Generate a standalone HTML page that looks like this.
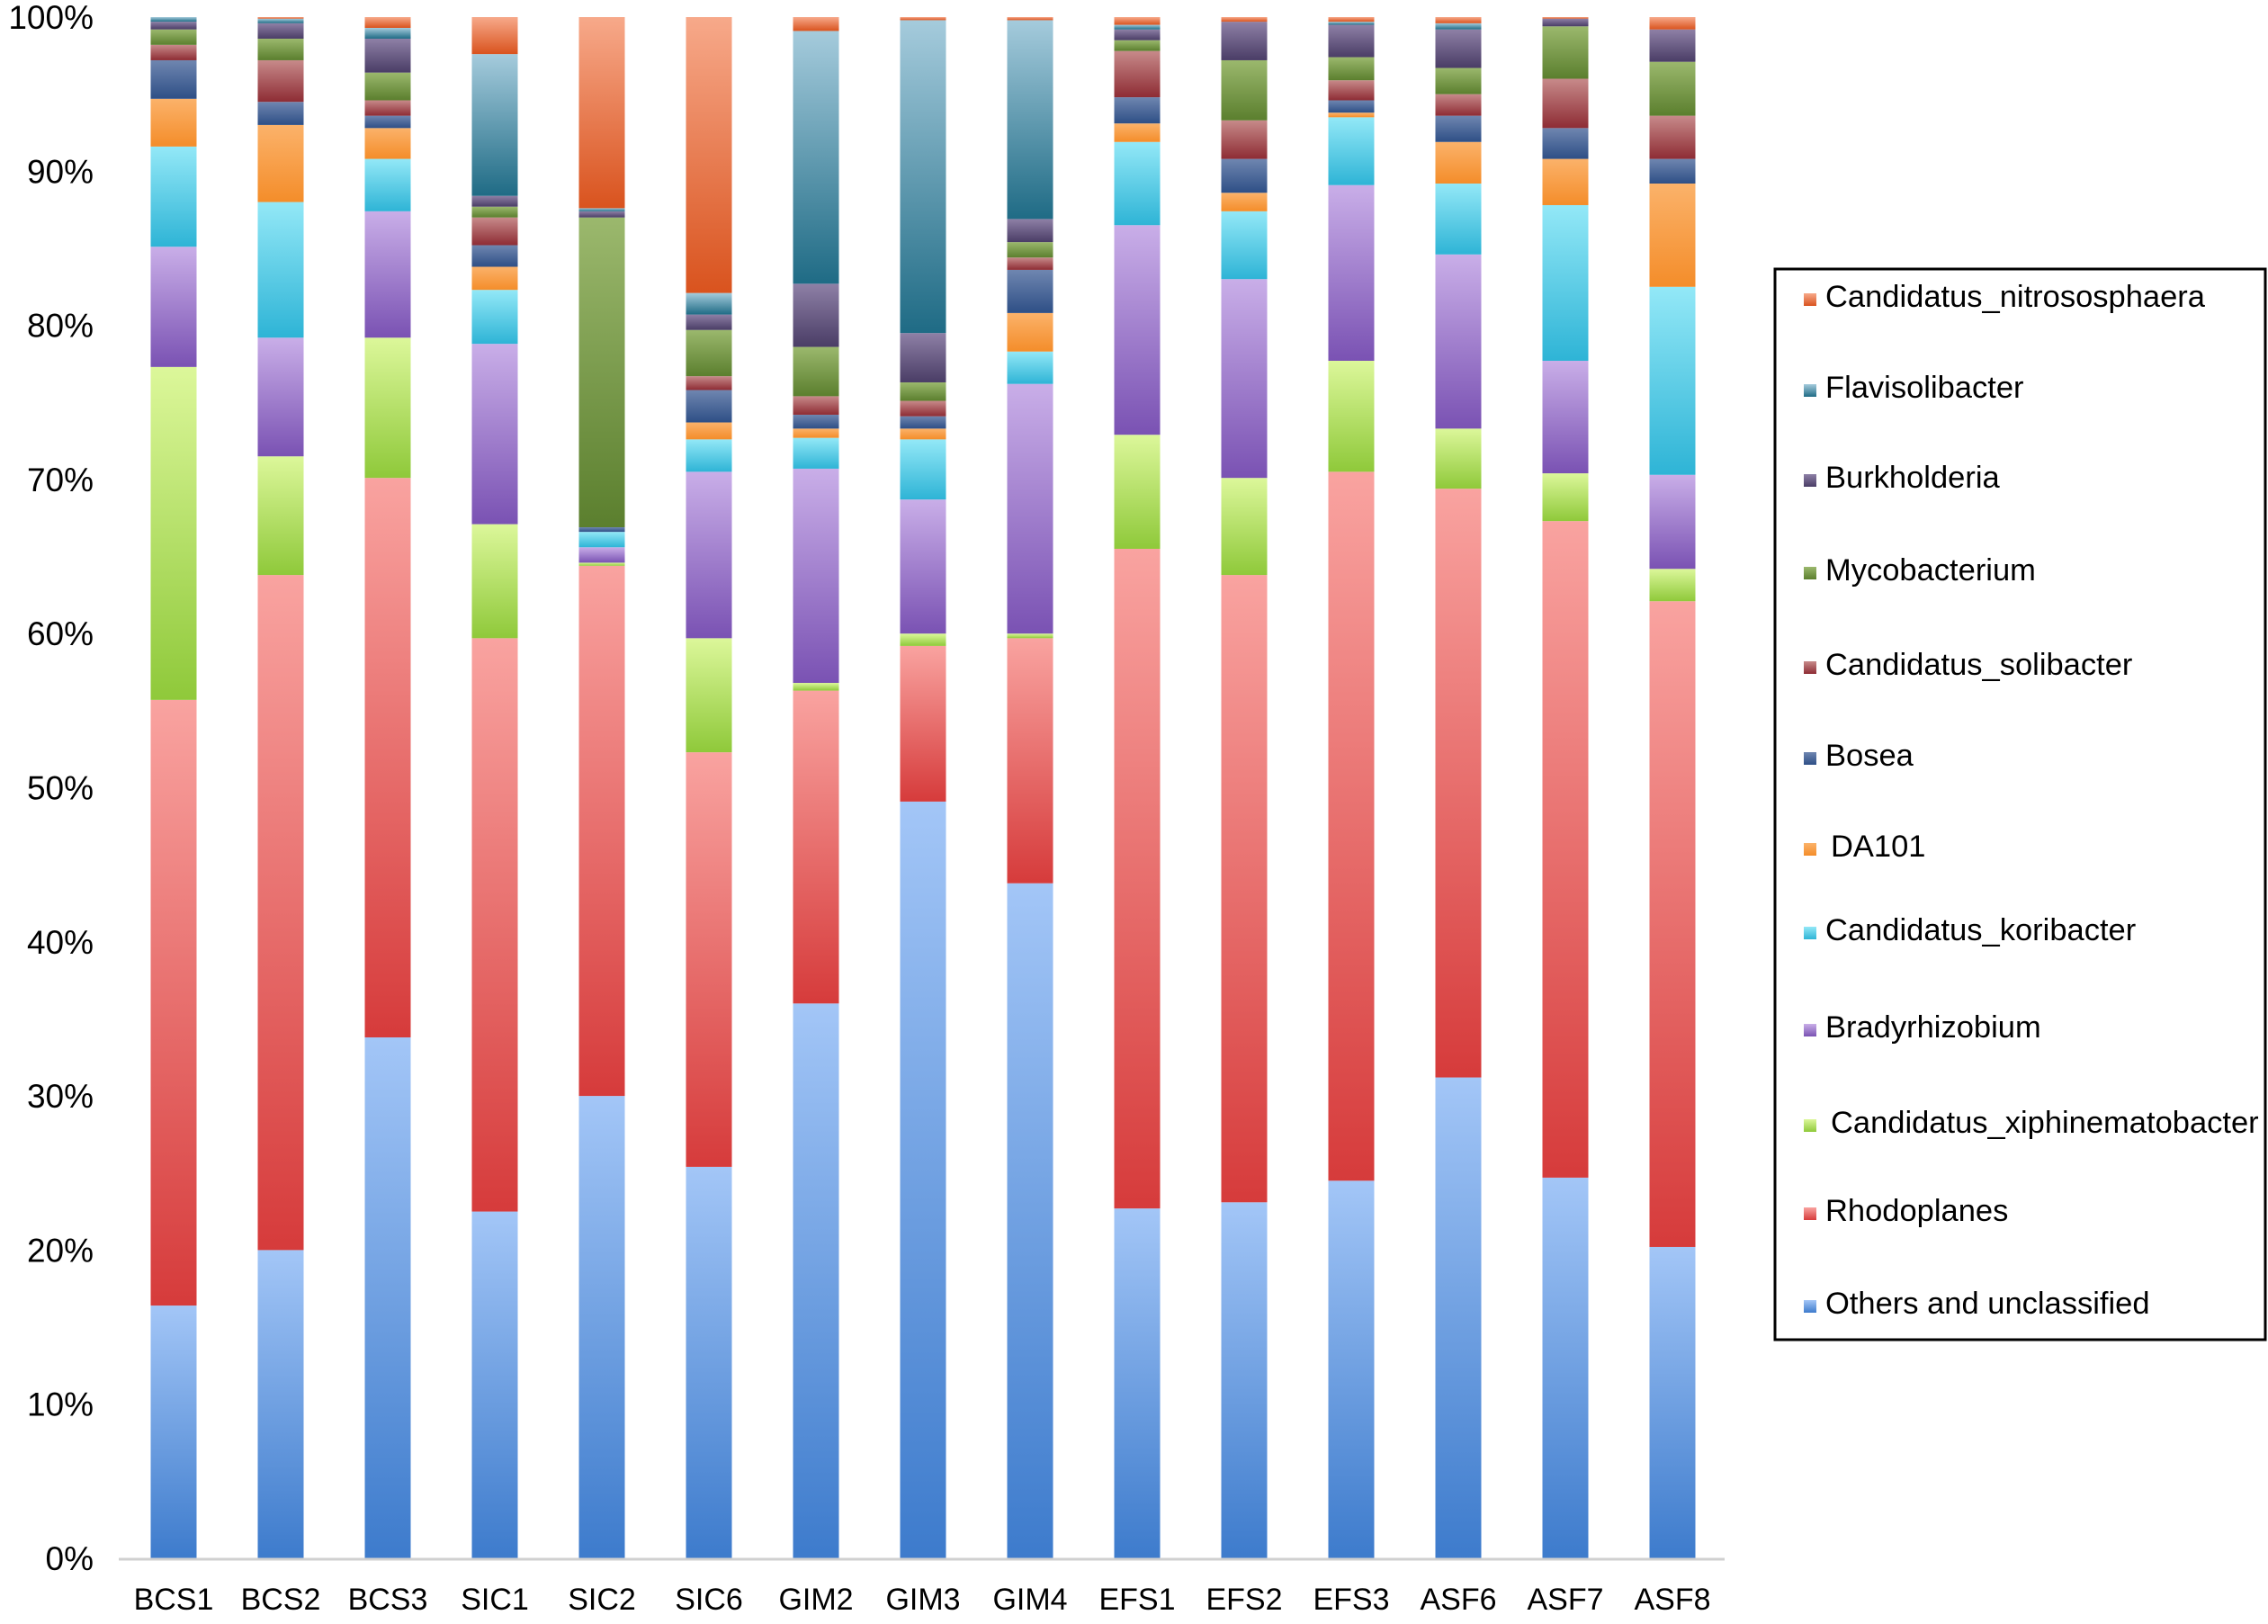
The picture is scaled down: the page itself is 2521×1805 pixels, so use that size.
<!DOCTYPE html>
<html><head><meta charset="utf-8"><style>
html,body{margin:0;padding:0;background:#fff;}
svg{display:block;font-family:"Liberation Sans",Arial,sans-serif;}
</style></head><body>
<svg id="chart" width="2521" height="1805" viewBox="0 0 2521 1805" xmlns="http://www.w3.org/2000/svg">
<defs id="defs"></defs>
<g id="yaxis"></g>
<g id="bars"></g>
<g id="xaxis"></g>
<g id="legend"></g>
</svg>
<script>
const samples = ["BCS1","BCS2","BCS3","SIC1","SIC2","SIC6","GIM2","GIM3","GIM4","EFS1","EFS2","EFS3","ASF6","ASF7","ASF8"];
const seriesNames = ["Others and unclassified","Rhodoplanes","Candidatus_xiphinematobacter","Bradyrhizobium","Candidatus_koribacter","DA101","Bosea","Candidatus_solibacter","Mycobacterium","Burkholderia","Flavisolibacter","Candidatus_nitrososphaera"];
const others = [16.4,20.0,33.8,22.5,30.0,25.4,36.0,49.1,43.8,22.7,23.1,24.5,31.2,24.7,20.2];
const rhodoplanes = [39.3,43.8,36.3,37.2,34.4,26.9,20.3,10.1,15.9,42.8,40.7,46.0,38.2,42.6,41.9];
const xiphinematobacter = [21.6,7.7,9.1,7.4,0.2,7.4,0.5,0.8,0.3,7.4,6.3,7.2,3.9,3.1,2.1];
const bradyrhizobium = [7.8,7.7,8.2,11.7,1.0,10.8,13.9,8.7,16.2,13.6,12.9,11.4,11.3,7.3,6.1];
const koribacter = [6.5,8.8,3.4,3.5,1.0,2.1,2.0,3.9,2.1,5.4,4.4,4.4,4.6,10.1,12.2];
const da101 = [3.1,5.0,2.0,1.5,0.0,1.1,0.6,0.7,2.5,1.2,1.2,0.3,2.7,3.0,6.7];
const bosea = [2.5,1.5,0.8,1.4,0.3,2.1,0.9,0.8,2.8,1.7,2.2,0.8,1.7,2.0,1.6];
const solibacter = [1.0,2.7,1.0,1.8,0.0,0.9,1.2,1.0,0.8,3.0,2.5,1.3,1.4,3.2,2.8];
const mycobacterium = [1.0,1.4,1.8,0.7,20.1,3.0,3.2,1.2,1.0,0.7,3.9,1.5,1.7,3.4,3.5];
const burkholderia = [0.5,1.0,2.2,0.7,0.4,1.0,4.1,3.2,1.5,0.7,2.5,2.1,2.5,0.5,2.1];
const flavisolibacter = [0.5,0.3,0.7,9.2,0.2,1.4,16.4,20.3,12.9,0.3,0.0,0.2,0.4,0.0,0.0];
const nitrososphaera = [0.0,0.0,0.0,2.4,12.4,17.9,0.9,0.2,0.2,0.0,0.5,0.6,0.4,0.0,0.8];
const yTicks = ["0%","10%","20%","30%","40%","50%","60%","70%","80%","90%","100%"];
const colorsTop = ["#a3c6f7","#f9a3a0","#dcf79a","#c9aee8","#93e8f7","#fbb26a","#6f86b0","#c78a8a","#9bb86d","#8e80a6","#a5cbdc","#f7a98a"];
const colorsBot = ["#3d7bcc","#d63b3b","#8fc93a","#7a52b3","#2eb4d6","#f48d2a","#2e4f86","#8e2c34","#5b7f2e","#4a3d66","#1f6b85","#d9531e"];

const NS="http://www.w3.org/2000/svg";
const defs=document.getElementById('defs');
const y0=1732, y1=19, xStart=193, xStep=119, barW=51, axL=132, axR=1917;
function yScale(v){return y0-(y0-y1)*v/100;}
function xScale(i){return xStart+i*xStep;}
function mk(t,a,p){const e=document.createElementNS(NS,t);for(const k in a)e.setAttribute(k,a[k]);p.appendChild(e);return e;}
const series=[others,rhodoplanes,xiphinematobacter,bradyrhizobium,koribacter,da101,bosea,solibacter,mycobacterium,burkholderia,flavisolibacter,nitrososphaera];
seriesNames.forEach((n,s)=>{
  const g=mk('linearGradient',{id:'g'+s,x1:0,y1:0,x2:0,y2:1},defs);
  mk('stop',{offset:0,'stop-color':colorsTop[s]},g);
  mk('stop',{offset:1,'stop-color':colorsBot[s]},g);
});
const ya=document.getElementById('yaxis');
yTicks.forEach((t,i)=>{
  const el=mk('text',{x:104,y:yScale(i*10)+13,'text-anchor':'end','font-size':37,fill:'#000'},ya);
  
  
  el.textContent=t;
});
const xa=document.getElementById('xaxis');
const ax=mk('line',{x1:axL,x2:axR,y1:y0+1,y2:y0+1,stroke:'#d0d0d0','stroke-width':3},xa);


const bars=document.getElementById('bars');
samples.forEach((smp,i)=>{
  let cum=0;
  const g=mk('g',{},bars);
  
  
  const totals=series.reduce((a,s)=>a+s[i],0);
  series.forEach((s,k)=>{
    let v=s[i];
    if(k===series.length-1) v=Math.max(v,100-(totals-s[i]));
    if(v<=0) return;
    const top=yScale(Math.min(100,cum+v)), bot=yScale(cum);
    const r=mk('rect',{x:xScale(i)-barW/2,y:top,width:barW,height:Math.max(0,bot-top),fill:'url(#g'+k+')'},g);
    
    
    cum+=v;
  });
  const t=mk('text',{x:xScale(i),y:1789,'text-anchor':'middle','font-size':34,fill:'#000'},xa);
  
  
  t.textContent=smp;
});
const lg=document.getElementById('legend');
const box=mk('rect',{x:1973,y:299,width:545,height:1190,fill:'#fff',stroke:'#000','stroke-width':3},lg);


const legY=[1449,1346,1248,1142,1034,941,840,739,634,531,431,330];
seriesNames.forEach((n,s)=>{
  const g=mk('g',{},lg);
  
  
  mk('rect',{x:2005,y:legY[s]-4,width:14,height:14,fill:'url(#g'+s+')'},g);
  const t=mk('text',{x:s===2||s===5?2035:2029,y:legY[s]+11,'font-size':34.5,fill:'#000'},g);
  t.textContent=n;
});
</script>
</body></html>
